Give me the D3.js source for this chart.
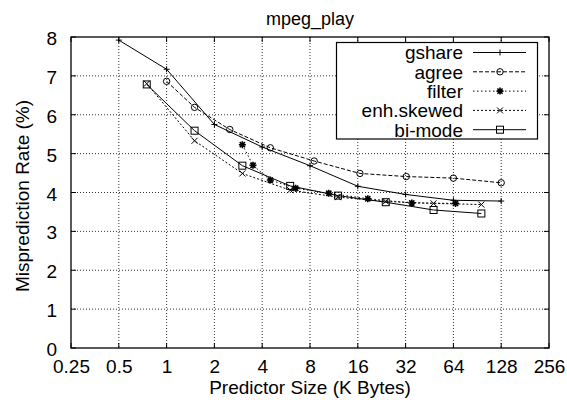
<!DOCTYPE html>
<html><head><meta charset="utf-8">
<script src="https://cdn.jsdelivr.net/npm/d3@7"></script>
<style>body{margin:0;background:#fff;} text{font-family:"Liberation Sans",Arial,sans-serif;fill:#000;}</style>
</head><body>
<svg id="c" width="567" height="400"></svg>
<script>
const title = "mpeg_play";
const xLabel = "Predictor Size (K Bytes)";
const yLabel = "Misprediction Rate (%)";
const xTicks = [0.25,0.5,1,2,4,8,16,32,64,128,256];
const xTickLabels = ["0.25","0.5","1","2","4","8","16","32","64","128","256"];
const yTicks = [0,1,2,3,4,5,6,7,8];

const gshareX = [0.5,1,2,4,8,16,32,64,128];
const gshareY = [7.92,7.17,5.75,5.17,4.69,4.16,3.95,3.80,3.78];
const agreeX = [1,1.5,2.5,4.5,8.5,16.5,32.3,64,128];
const agreeY = [6.86,6.19,5.62,5.15,4.81,4.49,4.41,4.37,4.25];
const filterX = [3,3.5,4.5,6.5,10.5,18.5,35,66];
const filterY = [5.23,4.70,4.32,4.11,3.98,3.84,3.73,3.72];
const enhX = [0.75,1.5,3,6,12,24,48,96];
const enhY = [6.80,5.33,4.49,4.06,3.88,3.77,3.72,3.69];
const bimodeX = [0.75,1.5,3,6,12,24,48,96];
const bimodeY = [6.78,5.59,4.69,4.17,3.92,3.75,3.55,3.46];

const seriesNames = ["gshare","agree","filter","enh.skewed","bi-mode"];
const seriesX = [gshareX,agreeX,filterX,enhX,bimodeX];
const seriesY = [gshareY,agreeY,filterY,enhY,bimodeY];
const dashes = [null,"4,2","1.5,2.5","2,2",null];
const markers = ["plus","circle","star","cross","square"];

const L=71,R=549,T=37,B=348;
const svg = d3.select("#c");
const x = d3.scaleLog().base(2).domain([0.25,256]).range([L,R]);
const y = d3.scaleLinear().domain([0,8]).range([B,T]);

// grid
const g = svg.append("g");
g.selectAll(".gx").data(xTicks.slice(1,-1)).enter().append("line")
 .attr("x1",d=>x(d)).attr("x2",d=>x(d)).attr("y1",T).attr("y2",B)
 .attr("stroke","#000").attr("stroke-width",0.8).attr("stroke-dasharray","1,2");
g.selectAll(".gy").data(yTicks.slice(1,-1)).enter().append("line")
 .attr("y1",d=>y(d)).attr("y2",d=>y(d)).attr("x1",L).attr("x2",R)
 .attr("stroke","#000").attr("stroke-width",0.8).attr("stroke-dasharray","1,2");

// ticks (mirror)
const tl=5;
xTicks.forEach(d=>{
  g.append("line").attr("x1",x(d)).attr("x2",x(d)).attr("y1",B).attr("y2",B-tl).attr("stroke","#000");
  g.append("line").attr("x1",x(d)).attr("x2",x(d)).attr("y1",T).attr("y2",T+tl).attr("stroke","#000");
});
yTicks.forEach(d=>{
  g.append("line").attr("y1",y(d)).attr("y2",y(d)).attr("x1",L).attr("x2",L+tl).attr("stroke","#000");
  g.append("line").attr("y1",y(d)).attr("y2",y(d)).attr("x1",R).attr("x2",R-tl).attr("stroke","#000");
});

// axis labels via d3 axes (text only)
const xAxis = d3.axisBottom(x).tickValues(xTicks).tickFormat((d,i)=>xTickLabels[i]).tickSize(0).tickPadding(0);
const xa = svg.append("g").attr("transform",`translate(0,${B})`).call(xAxis);
xa.select(".domain").remove();
xa.selectAll("text").attr("y",24.5).attr("dy",0).style("font-size","19px").style("font-family","Liberation Sans, Arial, sans-serif").attr("fill","#000");
const yAxis = d3.axisLeft(y).tickValues(yTicks).tickSize(0).tickPadding(0);
const ya = svg.append("g").attr("transform",`translate(${L},0)`).call(yAxis);
ya.select(".domain").remove();
ya.selectAll("text").attr("x",-14).attr("dy","0.4em").style("font-size","19px").style("font-family","Liberation Sans, Arial, sans-serif").attr("fill","#000");

// frame
svg.append("rect").attr("x",L).attr("y",T).attr("width",R-L).attr("height",B-T).attr("fill","none").attr("stroke","#000").attr("stroke-width",1.3);

// titles
svg.append("text").attr("x",(L+R)/2).attr("y",25).attr("text-anchor","middle").style("font-size","18px").text(title);
svg.append("text").attr("x",(L+R)/2).attr("y",394).attr("text-anchor","middle").style("font-size","19px").text(xLabel);
svg.append("text").attr("transform",`translate(29,196) rotate(-90)`).attr("text-anchor","middle").style("font-size","19px").text(yLabel);

function drawMarker(sel,type,cx,cy){
  const s=sel.append("g").attr("transform",`translate(${cx},${cy})`);
  const st={stroke:"#000","stroke-width":1,fill:"none"};
  const ap=(e)=>{for(const k in st)e.attr(k,st[k]);return e;};
  if(type==="plus"){ap(s.append("path").attr("d","M-3,0H3M0,-3V3"));}
  else if(type==="circle"){ap(s.append("circle").attr("r",3.2));}
  else if(type==="star"){ap(s.append("path").attr("d","M-3.5,0H3.5M0,-3.5V3.5M-2.6,-2.6L2.6,2.6M-2.6,2.6L2.6,-2.6")).attr("stroke-width",1.6);}
  else if(type==="cross"){ap(s.append("path").attr("d","M-3,-3L3,3M-3,3L3,-3"));}
  else if(type==="square"){ap(s.append("rect").attr("x",-3.5).attr("y",-3.5).attr("width",7).attr("height",7));}
}

const line = d3.line().x(d=>x(d[0])).y(d=>y(d[1]));
seriesNames.forEach((name,i)=>{
  const pts = seriesX[i].map((v,j)=>[v,seriesY[i][j]]);
  const p = svg.append("path").datum(pts).attr("d",line).attr("fill","none").attr("stroke","#000").attr("stroke-width",1);
  if(dashes[i]) p.attr("stroke-dasharray",dashes[i]);
  const mg = svg.append("g");
  pts.forEach(pt=>drawMarker(mg,markers[i],x(pt[0]),y(pt[1])));
});

// legend
const lg = svg.append("g");
lg.append("rect").attr("x",336.5).attr("y",42.5).attr("width",201).attr("height",96.5).attr("fill","#fff").attr("stroke","#000").attr("stroke-width",1.2);
seriesNames.forEach((name,i)=>{
  const ly = 52.5 + i*19.3;
  lg.append("text").attr("x",463).attr("y",ly).attr("dy","0.36em").attr("text-anchor","end").style("font-size","19px").text(name);
  const l = lg.append("line").attr("x1",473).attr("x2",526).attr("y1",ly).attr("y2",ly).attr("stroke","#000").attr("stroke-width",1);
  if(dashes[i]) l.attr("stroke-dasharray",dashes[i]);
  drawMarker(lg,markers[i],500,ly);
});
</script>
</body></html>
